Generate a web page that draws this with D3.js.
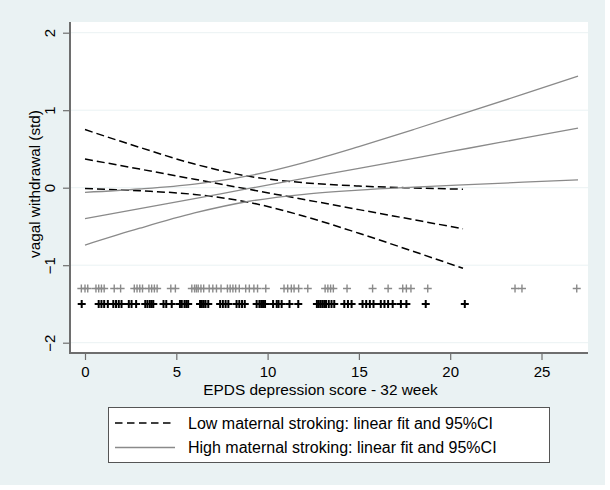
<!DOCTYPE html>
<html><head><meta charset="utf-8">
<script src="https://cdn.jsdelivr.net/npm/d3@7"></script>
<style>body{margin:0;background:#fff}svg{display:block}text{font-family:"Liberation Sans",Arial,sans-serif}</style>
</head><body>
<svg id="chart" width="610" height="490"></svg>
<script>
// ---- data ----
const lowX     = [0, 3, 6, 9, 12, 15, 18, 20.7];
const lowFit   = [0.37, 0.24, 0.109, -0.022, -0.152, -0.283, -0.413, -0.53];
const lowUpper = [0.75, 0.52, 0.305, 0.146, 0.064, 0.022, -0.003, -0.02];
const lowLower = [-0.01, -0.04, -0.087, -0.19, -0.368, -0.588, -0.823, -1.04];

const highX     = [0, 3, 6, 9, 12, 15, 18, 21, 24, 27];
const highFit   = [-0.40, -0.27, -0.14, -0.01, 0.12, 0.25, 0.379, 0.509, 0.639, 0.769];
const highUpper = [-0.06, -0.017, 0.046, 0.155, 0.325, 0.531, 0.751, 0.978, 1.207, 1.44];
const highLower = [-0.74, -0.523, -0.326, -0.175, -0.085, -0.031, 0.007, 0.04, 0.071, 0.10];

// rug (scatter of observations) - x positions
const lowRugY = -1.5;
const lowRugX = [-0.18, 0.75, 0.9, 1.05, 1.25, 1.55, 1.7, 1.85, 2.0, 2.4, 2.55, 2.8,
  3.3, 3.42, 3.55, 3.65, 3.74, 4.3, 4.45, 4.75, 5.2, 5.3, 5.45, 5.55, 5.65,
  6.3, 6.4, 6.5, 6.6, 6.75, 7.4, 7.55, 7.7, 7.85, 8.3, 8.45, 8.6, 8.75,
  9.4, 9.55, 9.65, 9.75, 9.86, 10.3, 10.5, 10.6, 10.77, 11.2, 11.68,
  12.7, 12.8, 12.9, 13.0, 13.1, 13.2, 13.35, 13.5, 13.65,
  14.2, 14.4, 14.6, 15.2, 15.4, 15.6, 15.8, 16.2, 16.4, 16.6, 16.85,
  17.3, 17.6, 18.66, 20.8];
const highRugY = -1.3;
const highRugX = [-0.2, 0.0, 0.15, 0.6, 0.75, 0.9, 1.05, 1.6, 1.95, 2.7, 2.85, 3.0, 3.15,
  3.5, 3.65, 3.8, 3.95, 4.7, 4.95, 5.85, 6.0, 6.1, 6.2, 6.35, 6.5,
  6.8, 7.0, 7.2, 7.45, 7.8, 7.95, 8.1, 8.25, 8.45, 8.8, 9.0, 9.25, 9.45, 9.9,
  10.9, 11.1, 11.3, 11.45, 11.7, 12.2, 13.15, 13.3, 13.45, 13.6,
  14.35, 15.75, 16.6, 17.4, 17.6, 17.85, 18.77, 23.55, 23.93, 26.93];

const xTicks = [0, 5, 10, 15, 20, 25];
const yTicks = [-2, -1, 0, 1, 2];
const xTitle = "EPDS depression score - 32 week";
const yTitle = "vagal withdrawal (std)";
const legendLabels = ["Low maternal stroking: linear fit and 95%CI",
                      "High maternal stroking: linear fit and 95%CI"];

// ---- drawing ----
const svg = d3.select("#chart");
svg.append("rect").attr("x", 0).attr("y", 0).attr("width", 605).attr("height", 485).attr("fill", "#eaf2f3");

const plot = {left: 70, right: 588, top: 22, bottom: 353};
svg.append("rect").attr("x", plot.left).attr("y", plot.top)
  .attr("width", plot.right - plot.left).attr("height", plot.bottom - plot.top).attr("fill", "#fff");

const x = d3.scaleLinear().domain([0, 25]).range([85, 541.5]);
const y = d3.scaleLinear().domain([-2, 2]).range([342.7, 32.7]);

// grid
svg.append("g").selectAll("line").data(yTicks).join("line")
  .attr("x1", plot.left).attr("x2", plot.right)
  .attr("y1", d => y(d)).attr("y2", d => y(d))
  .attr("stroke", "#eaf2f3").attr("stroke-width", 1);

// lines
const line = d3.line().x(d => x(d[0])).y(d => y(d[1])).curve(d3.curveMonotoneX);
function drawSeries(xs, ys, style) {
  svg.append("path").datum(xs.map((v, i) => [v, ys[i]]))
    .attr("d", line).attr("fill", "none")
    .attr("stroke", style.color).attr("stroke-width", style.width)
    .attr("stroke-dasharray", style.dash || null);
}
const lowStyle = {color: "#000", width: 1.5, dash: "8,4"};
const highStyle = {color: "#8a8a8a", width: 1.3};
[lowUpper, lowFit, lowLower].forEach(s => drawSeries(lowX, s, lowStyle));
[highUpper, highFit, highLower].forEach(s => drawSeries(highX, s, highStyle));

// rug plus markers
const plusPath = "M-4,0H4M0,-4V4";
svg.append("g").selectAll("path").data(highRugX).join("path")
  .attr("d", plusPath).attr("transform", d => `translate(${x(d)},${y(highRugY)})`)
  .attr("stroke", "#8a8a8a").attr("stroke-width", 1.4).attr("fill", "none");
svg.append("g").selectAll("path").data(lowRugX).join("path")
  .attr("d", plusPath).attr("transform", d => `translate(${x(d)},${y(lowRugY)})`)
  .attr("stroke", "#000").attr("stroke-width", 2).attr("fill", "none");

// axes
const axisColor = "#6e6e6e";
const xAxis = svg.append("g").attr("transform", `translate(0,${plot.bottom})`)
  .call(d3.axisBottom(x).tickValues(xTicks).tickSize(7).tickPadding(6));
xAxis.select(".domain").remove();
xAxis.append("line").attr("x1", plot.left).attr("x2", plot.right).attr("stroke", axisColor).attr("stroke-width", 2);
xAxis.selectAll(".tick line").attr("stroke", axisColor).attr("stroke-width", 1.2);
xAxis.selectAll(".tick text").attr("font-size", 15).attr("fill", "#000")
  .attr("font-family", "Liberation Sans, Arial, sans-serif");

const yAxis = svg.append("g").attr("transform", `translate(${plot.left},0)`)
  .call(d3.axisLeft(y).tickValues(yTicks).tickSize(7).tickFormat(d3.format("d")));
yAxis.select(".domain").remove();
yAxis.append("line").attr("y1", plot.top).attr("y2", plot.bottom + 1).attr("stroke", axisColor).attr("stroke-width", 2);
yAxis.selectAll(".tick line").attr("stroke", axisColor).attr("stroke-width", 1.2);
yAxis.selectAll(".tick text").attr("font-size", 15).attr("fill", "#000")
  .attr("font-family", "Liberation Sans, Arial, sans-serif")
  .attr("x", null).attr("dy", null)
  .attr("transform", "translate(-21,0) rotate(-90)")
  .attr("text-anchor", "middle").attr("dominant-baseline", "central");

// titles
svg.append("text").attr("x", 320.5).attr("y", 395).attr("text-anchor", "middle")
  .attr("font-size", 15.4).text(xTitle);
svg.append("text").attr("transform", "translate(40,184) rotate(-90)").attr("text-anchor", "middle")
  .attr("font-size", 15.3).text(yTitle);

// legend
const lg = svg.append("g");
lg.append("rect").attr("x", 108.5).attr("y", 407.5).attr("width", 441).attr("height", 55)
  .attr("fill", "#fff").attr("stroke", "#555").attr("stroke-width", 1);
const legendStyles = [lowStyle, highStyle];
legendLabels.forEach((lab, i) => {
  const yy = 423 + i * 24.5;
  lg.append("line").attr("x1", 115).attr("x2", 175).attr("y1", yy).attr("y2", yy)
    .attr("stroke", legendStyles[i].color).attr("stroke-width", legendStyles[i].width)
    .attr("stroke-dasharray", legendStyles[i].dash ? "7.5,4.5" : null);
  lg.append("text").attr("x", 188).attr("y", yy + 5.5).attr("font-size", 16).text(lab);
});
</script>
</body></html>
